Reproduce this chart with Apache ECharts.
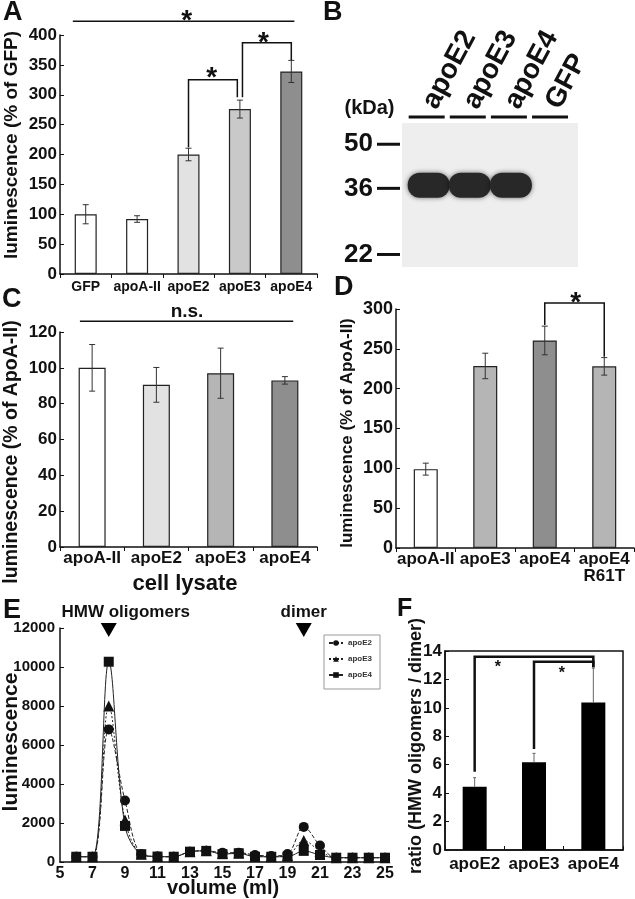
<!DOCTYPE html>
<html><head><meta charset="utf-8">
<script src="https://cdn.jsdelivr.net/npm/echarts@6/dist/echarts.min.js"></script>
<style>html,body{margin:0;padding:0;background:#fff}#c{width:635px;height:899px}</style>
</head><body><div id="c"></div>
<script>
// ---------- DATA ----------
// Panel A
const aCategories = ['GFP', 'apoA-II', 'apoE2', 'apoE3', 'apoE4'];
const aValues = [100, 92, 200, 276, 339];
const aErrors = [16, 5.5, 10.5, 15, 18.5];
// brackets: [x1, y1, x2, y2, top, starX, starY]
const aBrackets = [[-0.25, 423, 4.06, 423, 423, 1.966, 433], [2, 212, 2.95, 296, 325, 2.45, 338], [3.05, 296, 4, 358, 387, 3.46, 396]];
// Panel B (western blot)
const bLanes = ['apoE2', 'apoE3', 'apoE4', 'GFP'];
const bBandPresent = [1, 1, 1, 0];
const bBandKDa = 37;
const bMarkers = [50, 36, 22];
// Panel C
const cCategories = ['apoA-II', 'apoE2', 'apoE3', 'apoE4'];
const cValues = [100, 90.5, 97, 93];
const cErrors = [13, 9.7, 14, 2.1];
const cBrackets = [[-0.19, 126, 3.13, 126, 126, 1.477, 131.5]];
// Panel D
const dCategories = ['apoA-II', 'apoE3', 'apoE4', 'apoE4\nR61T'];
const dValues = [99, 228.5, 260.5, 228];
const dErrors = [7.5, 16, 18, 11];
const dBrackets = [[2, 280, 3, 240, 307.5, 2.52, 315]];
// Panel E
const eVolumes = [6, 7, 8, 9, 10, 11, 12, 13, 14, 15, 16, 17, 18, 19, 20, 21, 22, 23, 24, 25];
const eApoE2 = [270, 270, 6800, 3150, 400, 280, 270, 530, 580, 480, 480, 360, 310, 410, 1800, 850, 220, 220, 220, 220];
const eApoE3 = [270, 270, 8000, 2150, 400, 280, 270, 530, 580, 430, 450, 300, 270, 330, 1100, 560, 220, 220, 220, 220];
const eApoE4 = [270, 270, 10270, 1850, 400, 280, 270, 530, 570, 400, 450, 270, 270, 270, 570, 360, 220, 220, 220, 220];
const eArrowVolumes = [8, 20];
const eArrowLabels = ['HMW oligomers', 'dimer'];
// Panel F
const fCategories = ['apoE2', 'apoE3', 'apoE4'];
const fValues = [4.45, 6.17, 10.37];
const fErrors = [0.64, 0.63, 2.42];
const fBrackets = [[0, 5.5, 2, 12.85, 13.6, 0.39, 13.1], [1, 7.1, 2, 12.85, 13.25, 1.47, 12.7]];

// ---------- STYLE ----------
const FONT = '"Liberation Sans", Arial, Helvetica, sans-serif';
const TXT = '#111';
const aColors = ['#ffffff', '#ffffff', '#e2e2e2', '#c9c9c9', '#8e8e8e'];
const cColors = ['#ffffff', '#e2e2e2', '#b5b5b5', '#8e8e8e'];
const dColors = ['#ffffff', '#b5b5b5', '#8e8e8e', '#b5b5b5'];
const eArrowLabelShift = [17, 0];

function ts(size, extra) { return Object.assign({ fontFamily: FONT, fontWeight: 'bold', fontSize: size, color: TXT }, extra || {}); }
function yAx(gi, min, max, interval, size, margin) {
  return { type: 'value', gridIndex: gi, min, max, interval,
    axisLine: { show: true, onZero: false, lineStyle: { color: TXT, width: 1.5 } },
    axisTick: { show: true, inside: true, length: 4, lineStyle: { color: TXT, width: 1 } },
    splitLine: { show: false },
    axisLabel: Object.assign(ts(size), { margin, formatter: v => String(v) }) };
}
function xCat(gi, data, size, margin, extra) {
  return Object.assign({ type: 'category', gridIndex: gi, data,
    axisLine: { show: true, onZero: false, lineStyle: { color: TXT, width: 1.5 } },
    axisTick: { show: true, length: 4, lineStyle: { color: TXT, width: 1 } },
    axisLabel: Object.assign(ts(size), { margin, interval: 0 }) }, extra || {});
}
function xHid(gi, n) { return { type: 'value', gridIndex: gi, min: -0.5, max: n - 0.5, show: false }; }

function barSeries(xi, yi, vals, colors, width, bc, bw) {
  return { type: 'bar', xAxisIndex: xi, yAxisIndex: yi, barWidth: width, z: 2,
    data: vals.map((v, i) => ({ value: v, itemStyle: { color: colors[i], borderColor: bc, borderWidth: bw } })) };
}
function errRender(cap, color, width, upOnly) {
  return function (params, api) {
    const x = api.value(0), lo = api.value(1), hi = api.value(2);
    const a = api.coord([x, hi]), b = api.coord([x, lo]);
    const st = { stroke: color, lineWidth: width };
    const ch = [
      { type: 'line', shape: { x1: a[0], y1: a[1], x2: b[0], y2: b[1] }, style: st },
      { type: 'line', shape: { x1: a[0] - cap, y1: a[1], x2: a[0] + cap, y2: a[1] }, style: st }
    ];
    if (!upOnly) ch.push({ type: 'line', shape: { x1: b[0] - cap, y1: b[1], x2: b[0] + cap, y2: b[1] }, style: st });
    return { type: 'group', children: ch };
  };
}
function errSeries(xi, yi, vals, errs, cap, color, width, upOnly) {
  return { type: 'custom', xAxisIndex: xi, yAxisIndex: yi, z: 5, silent: true,
    data: vals.map((v, i) => upOnly ? [i, v, v + errs[i]] : [i, v - errs[i], v + errs[i]]),
    renderItem: errRender(cap, color, width, upOnly) };
}
function bracketSeries(xi, yi, data, lw, text, size, dy) {
  return { type: 'custom', xAxisIndex: xi, yAxisIndex: yi, z: 6, silent: true, data,
    renderItem: function (params, api) {
      const v = i => api.value(i);
      const pts = [api.coord([v(0), v(1)]), api.coord([v(0), v(4)]), api.coord([v(2), v(4)]), api.coord([v(2), v(3)])];
      const s = api.coord([v(5), v(6)]);
      return { type: 'group', children: [
        { type: 'polyline', shape: { points: pts }, style: { stroke: TXT, lineWidth: lw, fill: null } },
        { type: 'text', x: s[0], y: s[1] + dy, style: { text, fill: TXT, fontFamily: FONT, fontWeight: 'bold', fontSize: size, align: 'center', verticalAlign: 'middle' } }
      ] };
    } };
}

function gText(text, x, y, size, rot, align) {
  return { type: 'text', x, y, rotation: rot || 0, z: 10,
    style: { text, fill: TXT, fontFamily: FONT, fontWeight: 'bold', fontSize: size, align: align || 'center', verticalAlign: 'middle' } };
}

const chart = echarts.init(document.getElementById('c'));
const option = {
  animation: false,
  backgroundColor: '#ffffff',
  grid: [
    { left: 60, top: 35, width: 257, height: 239 },
    { left: 60, top: 332, width: 257, height: 215 },
    { left: 396, top: 309, width: 238, height: 239 },
    { left: 60, top: 628, width: 325, height: 234 },
    { left: 445, top: 651, width: 178, height: 199, show: true, borderColor: TXT, borderWidth: 1.5, backgroundColor: 'rgba(0,0,0,0)' },
    { left: 402, top: 123, width: 176, height: 144, show: true, borderWidth: 0, backgroundColor: '#eeeeee' }
  ],
  xAxis: [
    xCat(0, aCategories, 14, 6),                  // 0
    xHid(0, aCategories.length),                  // 1
    xCat(1, cCategories, 17, 3),                  // 2
    xHid(1, cCategories.length),                  // 3
    xCat(2, dCategories, 17, 3, { axisLabel: Object.assign(ts(17), { margin: 3, interval: 0, lineHeight: 17 }) }), // 4
    xHid(2, dCategories.length),                  // 5
    { type: 'value', gridIndex: 3, min: 5, max: 25, interval: 1,   // 6
      axisLine: { show: true, onZero: false, lineStyle: { color: TXT, width: 1.5 } },
      axisTick: { show: false }, splitLine: { show: false },
      axisLabel: Object.assign(ts(16), { margin: 4, formatter: v => (v % 2 === 1 ? String(v) : '') }) },
    xCat(4, fCategories, 17, 6, { axisTick: { show: true, inside: true, length: 4, lineStyle: { color: TXT } } }), // 7
    xHid(4, fCategories.length),                  // 8
    { type: 'value', gridIndex: 5, min: 0.4, max: 4.68, show: false } // 9
  ],
  yAxis: [
    yAx(0, 0, 400, 50, 17, 3),
    yAx(1, 0, 120, 20, 17, 3),
    yAx(2, 0, 300, 50, 18, 3),
    yAx(3, 0, 12000, 2000, 15, 5),
    yAx(4, 0, 14, 2, 17, 3),
    { type: 'log', gridIndex: 5, min: 20.04, max: 58.57, show: false }
  ],
  legend: {
    data: ['apoE2', 'apoE3', 'apoE4'], orient: 'vertical', left: 324, top: 635,
    itemWidth: 14, itemHeight: 7, itemGap: 8, padding: [4, 8, 10, 4],
    borderColor: '#999', borderWidth: 1,
    textStyle: { fontFamily: FONT, fontWeight: 'bold', fontSize: 8, color: '#333' }
  },
  series: [
    // A
    barSeries(0, 0, aValues, aColors, 22, '#222', 1.2),
    errSeries(1, 0, aValues, aErrors, 3, '#333', 1, false),
    bracketSeries(1, 0, aBrackets, 1.5, '*', 28, 6),
    // C
    barSeries(2, 1, cValues, cColors, 27, '#222', 1.2),
    errSeries(3, 1, cValues, cErrors, 3, '#333', 1, false),
    bracketSeries(3, 1, cBrackets, 1.5, 'n.s.', 19, 0),
    // D
    barSeries(4, 2, dValues, dColors, 24, '#222', 1.2),
    errSeries(5, 2, dValues, dErrors, 3, '#333', 1, false),
    bracketSeries(5, 2, dBrackets, 1.5, '*', 28, 6),
    // E
    { name: 'apoE2', type: 'line', xAxisIndex: 6, yAxisIndex: 3, data: eVolumes.map((x, i) => [x, eApoE2[i]]),
      symbol: 'circle', symbolSize: 10, smooth: 0.35, itemStyle: { color: '#111' },
      lineStyle: { color: '#222', width: 1, type: [4, 2] }, z: 3 },
    { name: 'apoE3', type: 'line', xAxisIndex: 6, yAxisIndex: 3, data: eVolumes.map((x, i) => [x, eApoE3[i]]),
      symbol: 'triangle', symbolSize: 11, smooth: 0.35, itemStyle: { color: '#111' },
      lineStyle: { color: '#222', width: 1, type: [2, 2] }, z: 3 },
    { name: 'apoE4', type: 'line', xAxisIndex: 6, yAxisIndex: 3, data: eVolumes.map((x, i) => [x, eApoE4[i]]),
      symbol: 'rect', symbolSize: 10, smooth: 0.35, itemStyle: { color: '#111' },
      lineStyle: { color: '#222', width: 1, type: 'solid' }, z: 4 },
    { type: 'custom', xAxisIndex: 6, yAxisIndex: 3, silent: true, z: 6,
      data: eArrowVolumes.map(x => [x, 11900]),
      renderItem: function (params, api) {
        const p = api.coord([api.value(0), api.value(1)]);
        return { type: 'group', children: [
          { type: 'polygon', shape: { points: [[p[0] - 8, p[1] - 7], [p[0] + 8, p[1] - 7], [p[0], p[1] + 7]] }, style: { fill: '#000' } },
          { type: 'text', x: p[0] + eArrowLabelShift[params.dataIndex], y: p[1] - 18,
            style: { text: eArrowLabels[params.dataIndex], fill: TXT, fontFamily: FONT, fontWeight: 'bold', fontSize: 17, align: 'center', verticalAlign: 'middle' } }
        ] };
      } },
    // F
    barSeries(7, 4, fValues, ['#000', '#000', '#000'], 24, '#000', 0),
    errSeries(8, 4, fValues, fErrors, 1.5, '#666', 1, true),
    bracketSeries(8, 4, fBrackets, 2.5, '*', 16, 4),
    // B : bands
    { type: 'custom', xAxisIndex: 9, yAxisIndex: 5, silent: true, z: 3,
      data: bLanes.map((n, i) => [i + 1, bBandKDa, bBandPresent[i]]),
      renderItem: function (params, api) {
        if (!api.value(2)) return null;
        const p = api.coord([api.value(0), api.value(1)]);
        return { type: 'rect', shape: { x: p[0] - 19, y: p[1] - 12, width: 42, height: 25, r: 12 },
          style: { fill: '#282828', shadowBlur: 5, shadowColor: 'rgba(0,0,0,0.55)' } };
      } },
    // B : markers
    { type: 'custom', xAxisIndex: 9, yAxisIndex: 5, silent: true, z: 3,
      data: bMarkers.map(k => [0.4, k]),
      renderItem: function (params, api) {
        const p = api.coord([api.value(0), api.value(1)]);
        return { type: 'group', children: [
          { type: 'line', shape: { x1: p[0] - 25, y1: p[1], x2: p[0] - 2, y2: p[1] }, style: { stroke: TXT, lineWidth: 3 } },
          { type: 'text', x: p[0] - 29, y: p[1], style: { text: String(api.value(1)), fill: TXT, fontFamily: FONT, fontWeight: 'bold', fontSize: 26, align: 'right', verticalAlign: 'middle' } }
        ] };
      } },
    // B : lane headers
    { type: 'custom', xAxisIndex: 9, yAxisIndex: 5, silent: true, z: 3,
      data: bLanes.map((n, i) => [i + 1, 58.57]),
      renderItem: function (params, api) {
        const p = api.coord([api.value(0), api.value(1)]);
        return { type: 'group', children: [
          { type: 'line', shape: { x1: p[0] - 18, y1: p[1] - 6, x2: p[0] + 18, y2: p[1] - 6 }, style: { stroke: TXT, lineWidth: 3 } },
          { type: 'text', x: p[0] + 3, y: p[1] - 16, rotation: 62 * Math.PI / 180,
            style: { text: bLanes[params.dataIndex], fill: TXT, fontFamily: FONT, fontWeight: 'bold', fontSize: 28, align: 'left', verticalAlign: 'middle' } }
        ] };
      } }
  ],
  graphic: [
    gText('A', 3, 12.5, 27, 0, 'left'),
    gText('B', 323, 12.5, 27, 0, 'left'),
    gText('C', 2, 300, 27, 0, 'left'),
    gText('D', 334, 288, 27, 0, 'left'),
    gText('E', 3, 611, 27, 0, 'left'),
    gText('F', 397, 609, 25, 0, 'left'),
    gText('luminescence (% of GFP)', 12, 145, 19, Math.PI / 2),
    gText('luminescence (% of ApoA-II)', 12, 452, 19.5, Math.PI / 2),
    gText('luminescence (% of ApoA-II)', 347, 433, 17, Math.PI / 2),
    gText('luminescence', 11, 742, 21, Math.PI / 2),
    gText('ratio (HMW oligomers / dimer)', 416, 746, 18, Math.PI / 2),
    gText('cell lysate', 185, 584, 22),
    gText('volume (ml)', 223, 888, 20),
    gText('(kDa)', 369.5, 108, 20)
  ]
};
chart.setOption(option);
</script>
</body></html>
